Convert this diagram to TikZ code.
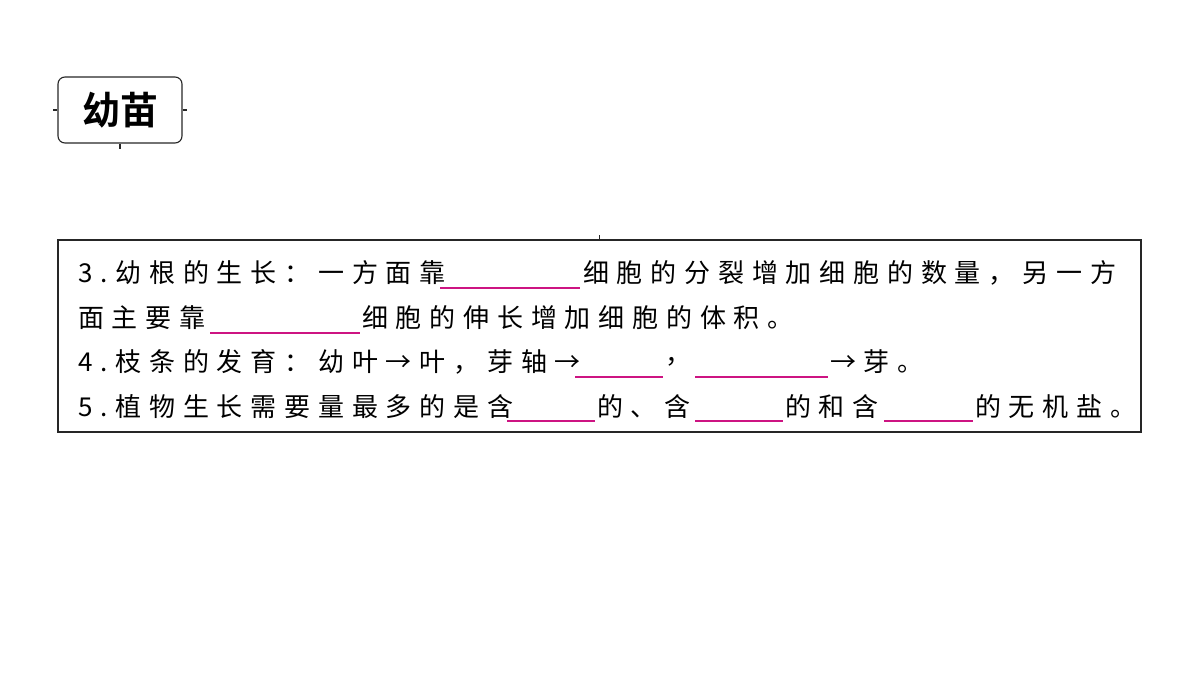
\documentclass[tikz,border=0pt]{standalone}
\usepackage{fontspec}
\newfontfamily\cjk[LetterSpace=30]{Noto Sans CJK SC}
\newfontfamily\cjkb{Noto Sans CJK SC Bold}
\definecolor{blank}{RGB}{205,20,130}
\begin{document}
\begin{tikzpicture}[x=1pt,y=-1pt,
  txt/.style={anchor=west,inner sep=0pt,font=\cjk\fontsize{26}{26}\selectfont},
  bl/.style={blank,line width=1.3pt},
  frame/.style={draw=black!85,line width=1.1pt}]
\useasboundingbox (0,0) rectangle (1200,675);
\node[frame,rounded corners=7pt,minimum width=124pt,minimum height=66pt,inner sep=0pt,font=\cjkb\fontsize{38}{38}\selectfont] (title) at (120,110) {幼苗};
\draw[frame] (title.west) -- ++(-4,0) (title.east) -- ++(4,0) (title.south) -- ++(0,5);
\node[frame,minimum width=1083pt,minimum height=192pt,inner sep=0pt] (box) at (599.5,336) {};
\draw[frame] (box.north) -- ++(0,-4);
% line 1
\node[txt] (a1) at (78,273) {3.幼根的生长：一方面靠};
\coordinate (b1s) at (440,288); \coordinate (b1e) at (580,288);
\draw[bl] (b1s) -- (b1e);
\node[txt] (a2) at (583,273) {细胞的分裂增加细胞的数量，另一方};
% line 2
\node[txt] (c1) at (78,318) {面主要靠};
\coordinate (b2s) at (210,333); \coordinate (b2e) at (360,333);
\draw[bl] (b2s) -- (b2e);
\node[txt] (c2) at (362,318) {细胞的伸长增加细胞的体积。};
% line 3
\node[txt] (d1) at (78,362) {4.枝条的发育：幼叶→叶，芽轴→};
\coordinate (b3s) at (575,377); \coordinate (b3e) at (663,377);
\draw[bl] (b3s) -- (b3e);
\node[txt] (d2) at (665,362) {，};
\coordinate (b4s) at (695,377); \coordinate (b4e) at (828,377);
\draw[bl] (b4s) -- (b4e);
\node[txt] (d3) at (830,362) {→芽。};
% line 4
\node[txt] (e1) at (78,407) {5.植物生长需要量最多的是含};
\coordinate (b5s) at (507,421); \coordinate (b5e) at (595,421);
\draw[bl] (b5s) -- (b5e);
\node[txt] (e2) at (597,407) {的、含};
\coordinate (b6s) at (695,421); \coordinate (b6e) at (783,421);
\draw[bl] (b6s) -- (b6e);
\node[txt] (e3) at (785,407) {的和含};
\coordinate (b7s) at (884,421); \coordinate (b7e) at (973,421);
\draw[bl] (b7s) -- (b7e);
\node[txt] (e4) at (975,407) {的无机盐。};
\end{tikzpicture}
\end{document}
